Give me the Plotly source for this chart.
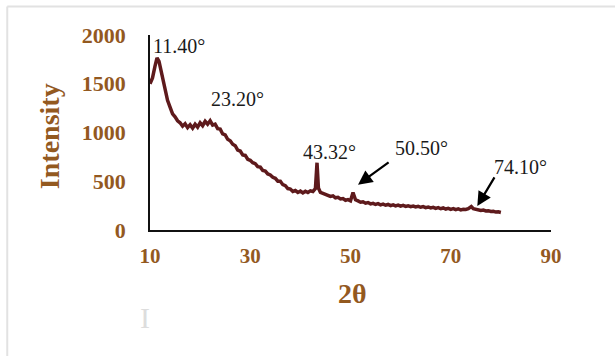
import plotly.graph_objects as go

# XRD pattern: diffraction angle (degrees) and measured intensity (counts)
two_theta = [
    10.0, 10.5, 11.0, 11.4, 11.8, 12.2, 12.6, 13.0, 13.5, 14.0, 14.5, 15.0, 15.5,
    16.0, 16.5, 17.0, 17.5, 18.0, 18.5, 19.0, 19.5, 20.0, 20.5, 21.0, 21.5, 22.0,
    22.5, 23.0, 23.5, 24.0, 24.5, 25.0, 25.5, 26.0, 26.5, 27.0, 27.5, 28.0, 28.5,
    29.0, 29.5, 30.0, 30.5, 31.0, 31.5, 32.0, 32.5, 33.0, 33.5, 34.0, 34.5, 35.0,
    35.5, 36.0, 36.5, 37.0, 37.5, 38.0, 38.5, 39.0, 39.5, 40.0, 40.5, 41.0, 41.5,
    42.0, 42.5, 43.0, 43.32, 43.6, 44.0, 44.5, 45.0, 45.5, 46.0, 46.5, 47.0, 47.5,
    48.0, 48.5, 49.0, 49.5, 50.0, 50.5, 51.0, 51.5, 52.0, 52.5, 53.0, 53.5, 54.0,
    54.5, 55.0, 55.5, 56.0, 56.5, 57.0, 57.5, 58.0, 58.5, 59.0, 59.5, 60.0, 60.5,
    61.0, 61.5, 62.0, 62.5, 63.0, 63.5, 64.0, 64.5, 65.0, 65.5, 66.0, 66.5, 67.0,
    67.5, 68.0, 68.5, 69.0, 69.5, 70.0, 70.5, 71.0, 71.5, 72.0, 72.5, 73.0, 73.5,
    74.1, 74.5, 75.0, 75.5, 76.0, 76.5, 77.0, 77.5, 78.0, 78.5, 79.0, 79.5, 80.0,
]
intensity = [
    1500, 1560, 1680, 1765, 1730, 1640, 1560, 1470, 1330, 1260, 1190, 1160, 1120,
    1100, 1065, 1090, 1050, 1080, 1045, 1085, 1055, 1100, 1070, 1115, 1085, 1120,
    1075, 1085, 1040, 1035, 985, 975, 930, 915, 880, 865, 820, 810, 770,
    765, 725, 715, 690, 680, 650, 645, 610, 605, 575, 565, 540, 530,
    500, 500, 465, 455, 425, 420, 395, 405, 385, 400, 380, 398, 385,
    402, 395, 425, 690, 430, 385, 375, 365, 358, 345, 350, 330, 335,
    318, 322, 305, 312, 300, 385, 310, 298, 285, 290, 275, 282, 268,
    274, 262, 270, 258, 265, 254, 262, 250, 258, 247, 255, 244, 252,
    242, 249, 239, 246, 236, 243, 233, 240, 230, 236, 226, 233, 222,
    229, 218, 226, 215, 222, 212, 219, 208, 216, 206, 213, 210, 218,
    240, 218, 210, 206, 200, 204, 195, 198, 190, 192, 184, 186, 180,
]
assert len(two_theta) == len(intensity)

# Peak positions labelled on the pattern
peak_labels = ["11.40°", "23.20°", "43.32°", "50.50°", "74.10°"]

tick_color = "#93591f"
serif = "Liberation Serif"

fig = go.Figure()
fig.add_trace(go.Scatter(
    x=two_theta, y=intensity, mode="lines",
    line=dict(color="#5e1a1c", width=3.5, shape="linear"),
    hoverinfo="skip", showlegend=False,
))

# Peak labels (text centre in data coordinates)
label_pos = [(15.8, 1890), (27.4, 1345), (45.9, 800), (64.2, 845), (84.0, 650)]
annotations = []
for txt, (lx, ly) in zip(peak_labels, label_pos):
    annotations.append(dict(
        x=lx, y=ly, xref="x", yref="y", text=txt, showarrow=False,
        xanchor="center", yanchor="middle",
        font=dict(family=serif, size=20, color="#1a1a1a"),
    ))

# Arrows pointing at the weak reflections
for (hx, hy, tx, ty) in [(51.5, 465, 57.9, 705), (75.3, 245, 78.9, 555)]:
    annotations.append(dict(
        x=hx, y=hy, xref="x", yref="y", ax=tx, ay=ty, axref="x", ayref="y",
        text="", showarrow=True, arrowhead=2, arrowsize=1.3, arrowwidth=2.2,
        arrowcolor="#000000",
    ))

# Axis titles
annotations.append(dict(
    x=-0.25, y=0.48, xref="paper", yref="paper", text="Intensity",
    textangle=-90, showarrow=False, xanchor="center", yanchor="middle",
    font=dict(family=serif, size=28, color=tick_color, weight="bold"),
))
annotations.append(dict(
    x=0.506, y=-0.325, xref="paper", yref="paper", text="2θ",
    showarrow=False, xanchor="center", yanchor="middle",
    font=dict(family=serif, size=28, color=tick_color, weight="bold"),
))
# Faint I-beam mark below the chart
annotations.append(dict(
    x=-0.012, y=-0.45, xref="paper", yref="paper", text="I",
    showarrow=False, xanchor="center", yanchor="middle",
    font=dict(family=serif, size=30, color="#dddddd"),
))

# Light frame along the top and left edges
shapes = [
    dict(type="line", xref="paper", yref="paper",
         x0=-0.356, x1=1.2, y0=1.146, y1=1.146,
         line=dict(color="#e2e2e2", width=2)),
    dict(type="line", xref="paper", yref="paper",
         x0=-0.356, x1=-0.356, y0=1.146, y1=-0.7,
         line=dict(color="#e2e2e2", width=2)),
]

fig.update_layout(
    width=615, height=356,
    margin=dict(l=150, r=64, t=35, b=126),
    paper_bgcolor="white", plot_bgcolor="white",
    annotations=annotations, shapes=shapes,
    xaxis=dict(
        range=[10, 90], tickvals=[10, 30, 50, 70, 90],
        showline=True, linecolor="#111111", linewidth=2,
        showgrid=False, zeroline=False, ticks="",
        ticklabelstandoff=6,
        tickfont=dict(family=serif, size=21, color=tick_color, weight="bold"),
    ),
    yaxis=dict(
        range=[0, 2000], tickvals=[0, 500, 1000, 1500, 2000],
        showline=True, linecolor="#111111", linewidth=1.5,
        showgrid=False, zeroline=False, ticks="",
        ticklabelstandoff=18,
        tickfont=dict(family=serif, size=22, color=tick_color, weight="bold"),
    ),
)

fig.write_html("out.html")
